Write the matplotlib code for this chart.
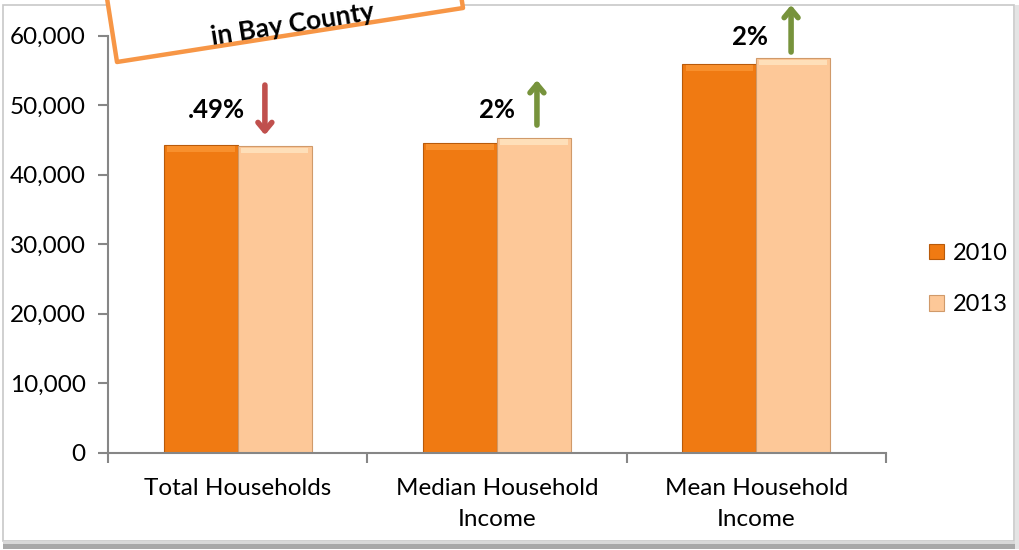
import matplotlib
matplotlib.use("Agg")
import matplotlib.pyplot as plt
from matplotlib.patches import Polygon, Rectangle
import numpy as np

categories = ["Total Households", "Median Household\nIncome", "Mean Household\nIncome"]
series_names = ["2010", "2013"]
values_2010 = [44300, 44600, 55950]
values_2013 = [44080, 45320, 56750]
change_labels = [".49%", "2%", "2%"]
change_dirs = ["down", "up", "up"]
yticks = [0, 10000, 20000, 30000, 40000, 50000, 60000]

plt.rcParams['font.family'] = ['Lato', 'DejaVu Sans']

W, H = 1020, 550
fig = plt.figure(figsize=(W / 100, H / 100), dpi=100)
fig.patch.set_facecolor("white")

def fx(px):
    return px / W

def fy(py):
    return 1 - py / H

# outer frame with shadow
fig.add_artist(Rectangle((fx(3), fy(541)), fx(1014) - fx(3), fy(5) - fy(541),
                         transform=fig.transFigure, fill=False, edgecolor="#C8C8C8", lw=1.2))
fig.add_artist(Rectangle((fx(3), fy(549)), fx(1020) - fx(3), fy(544) - fy(549),
                         transform=fig.transFigure, facecolor="#A8A8A8", edgecolor="none"))
fig.add_artist(Rectangle((fx(3), fy(544)), fx(1020) - fx(3), fy(541) - fy(544),
                         transform=fig.transFigure, facecolor="#D8D8D8", edgecolor="none"))
fig.add_artist(Rectangle((fx(1015), fy(549)), fx(1020) - fx(1015), fy(5) - fy(549),
                         transform=fig.transFigure, facecolor="#E4E4E4", edgecolor="none"))

ax = fig.add_axes([fx(108), fy(452.7), fx(886) - fx(108), fy(35.7) - fy(452.7)])
ax.set_facecolor("none")

x = np.arange(len(categories))
bw = 0.285
c2010 = "#F07A12"
c2013 = "#FDC898"
b1 = ax.bar(x - bw / 2, values_2010, bw, color=c2010, edgecolor="#B85A0A", lw=0.8, label=series_names[0])
b2 = ax.bar(x + bw / 2, values_2013, bw, color=c2013, edgecolor="#D09A6A", lw=0.8, label=series_names[1])

# simple bevel highlight strips on bar tops
for bars, hi in ((b1, "#FFA040"), (b2, "#FFF0D0")):
    for r in bars:
        h = r.get_height()
        ax.add_patch(Rectangle((r.get_x() + 0.012, h - 1000), r.get_width() - 0.024, 800,
                               facecolor=hi, edgecolor="none", alpha=0.6, zorder=3))

ax.set_xlim(-0.5, 2.5)
ax.set_ylim(0, 60000)
ax.set_yticks(yticks)
ax.set_yticklabels([f"{v:,}" for v in yticks], fontsize=17.5)
ax.set_xticks(x)
ax.set_xticklabels(categories, fontsize=17.5, linespacing=1.6)
ax.tick_params(axis="x", length=0, pad=18)
ax.set_xticks(np.arange(-0.5, 2.6, 1.0), minor=True)
ax.tick_params(axis="x", which="minor", length=7, width=1.5, color="#868686", direction="out")
ax.tick_params(axis="y", length=7, width=1.5, color="#868686", direction="out", pad=9)
for s in ("top", "right"):
    ax.spines[s].set_visible(False)
for s in ("left", "bottom"):
    ax.spines[s].set_color("#868686")
    ax.spines[s].set_linewidth(1.5)

# change labels and arrows (positions in data units)
label_pos = [(-0.08, 49300), (1.0, 49300), (1.976, 59800)]
arrow_pos = [(0.105, 52900, 45700), (1.154, 47140, 53610), (2.134, 57650, 64420)]
arrow_col = {"down": "#C0504D", "up": "#77933C"}
for lab, d, (lx, ly), (axx, y0, y1) in zip(change_labels, change_dirs, label_pos, arrow_pos):
    ax.text(lx, ly, lab, ha="center", va="center", fontsize=18.5, fontweight="bold", color="black")
    ax.annotate("", xy=(axx, y1), xytext=(axx, y0),
                arrowprops=dict(arrowstyle="->,head_length=0.6,head_width=0.5", lw=4,
                                color=arrow_col[d], shrinkA=0, shrinkB=0,
                                capstyle="round", joinstyle="round"),
                annotation_clip=False)

# legend
leg = fig.legend(handles=[b1, b2], labels=series_names, loc="center left",
                 bbox_to_anchor=(fx(908), fy(279)), frameon=False, fontsize=17,
                 handlelength=0.62, handleheight=0.62, handletextpad=0.4, labelspacing=1.3)

# rotated callout box (partially outside the figure)
ang = np.deg2rad(8.9)
bl = np.array([117.0, 62.0])
br = np.array([463.0, 8.0])
up = np.array([-np.sin(ang), -np.cos(ang)]) * 120
corners = [bl, br, br + up, bl + up]
poly = Polygon([(fx(p[0]), fy(p[1])) for p in corners], closed=True, transform=fig.transFigure,
               facecolor="white", edgecolor="#F79646", lw=3.2, zorder=10, joinstyle="round")
fig.add_artist(poly)
fig.text(fx(293), fy(24), "in Bay County", rotation=8.9, ha="center", va="center",
         fontsize=19, fontweight="bold", color="black", zorder=11, rotation_mode="anchor")

fig.savefig("out.png", dpi=100)
